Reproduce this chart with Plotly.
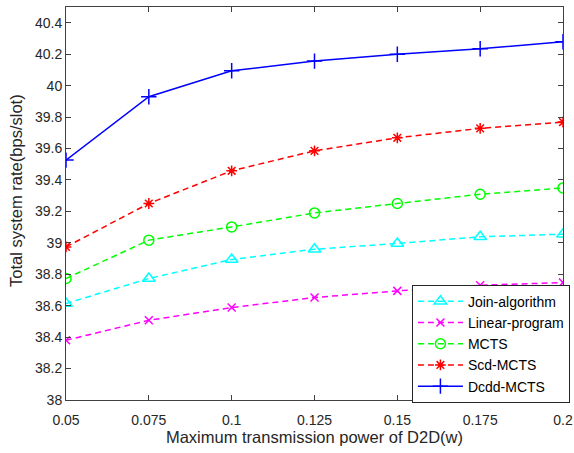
import plotly.graph_objects as go

x_vals = [0.05, 0.075, 0.1, 0.125, 0.15, 0.175, 0.2]
x_labels = ["0.05", "0.075", "0.1", "0.125", "0.15", "0.175", "0.2"]
y_ticks = [38, 38.2, 38.4, 38.6, 38.8, 39, 39.2, 39.4, 39.6, 39.8, 40, 40.2, 40.4]
y_labels = ["38", "38.2", "38.4", "38.6", "38.8", "39", "39.2", "39.4", "39.6", "39.8", "40", "40.2", "40.4"]

join_algorithm = [38.614, 38.773, 38.894, 38.959, 38.996, 39.038, 39.055]
linear_program = [38.380, 38.507, 38.588, 38.652, 38.694, 38.730, 38.747]
mcts = [38.773, 39.017, 39.101, 39.190, 39.250, 39.309, 39.349]
scd_mcts = [38.974, 39.250, 39.458, 39.585, 39.668, 39.728, 39.768]
dcdd_mcts = [39.526, 39.929, 40.094, 40.156, 40.199, 40.234, 40.279]

series = [
    ("Join-algorithm", join_algorithm, "#00FFFF", "triangle-up-open", "6px,4px", 11),
    ("Linear-program", linear_program, "#FF00FF", "x-thin-open", "6px,4px", 8),
    ("MCTS", mcts, "#00FF00", "circle-open", "6px,4px", 10),
    ("Scd-MCTS", scd_mcts, "#FF0000", "asterisk-open", "6px,4px", 9),
    ("Dcdd-MCTS", dcdd_mcts, "#0000FF", "cross-thin-open", "solid", 11),
]

fig = go.Figure()
for name, vals, color, sym, dash, size in series:
    fig.add_trace(go.Scatter(
        x=x_vals, y=vals, name=name, mode="lines+markers",
        line=dict(color=color, width=1.5, dash=dash),
        marker=dict(symbol=sym, size=size, color=color, line=dict(color=color, width=1.5)),
    ))

axis_common = dict(
    showgrid=False, zeroline=False, showline=True, mirror="ticks",
    linecolor="#404040", linewidth=1, ticks="inside", ticklen=5,
    tickcolor="#404040", automargin=False,
    tickfont=dict(family="Liberation Sans, Arial", size=14, color="#262626"),
)

fig.update_layout(
    width=574, height=453,
    margin=dict(l=66, r=11, t=7, b=53, autoexpand=False),
    paper_bgcolor="white", plot_bgcolor="white",
    font=dict(family="Liberation Sans, Arial", color="#262626"),
    xaxis=dict(range=[0.05, 0.2], tickvals=x_vals, ticktext=x_labels,
               ticklabelstandoff=7,
               title=dict(text="Maximum transmission power of D2D(w)", font=dict(size=16.5), standoff=3),
               **axis_common),
    yaxis=dict(range=[38, 40.5], tickvals=y_ticks, ticktext=y_labels,
               **axis_common),
    legend=dict(x=0.696, xanchor="left", y=-0.007, yanchor="bottom",
                bgcolor="white", bordercolor="#262626", borderwidth=1,
                font=dict(size=14, color="#000000"), itemwidth=45,
                tracegroupgap=0),
    showlegend=True,
    annotations=[dict(
        text="Total system rate(bps/slot)", textangle=-90,
        xref="paper", yref="paper", x=0, y=0.532, xanchor="center", yanchor="middle",
        xshift=-50, showarrow=False, font=dict(size=16.5, color="#262626"),
    )],
)

fig.write_html("out.html")
